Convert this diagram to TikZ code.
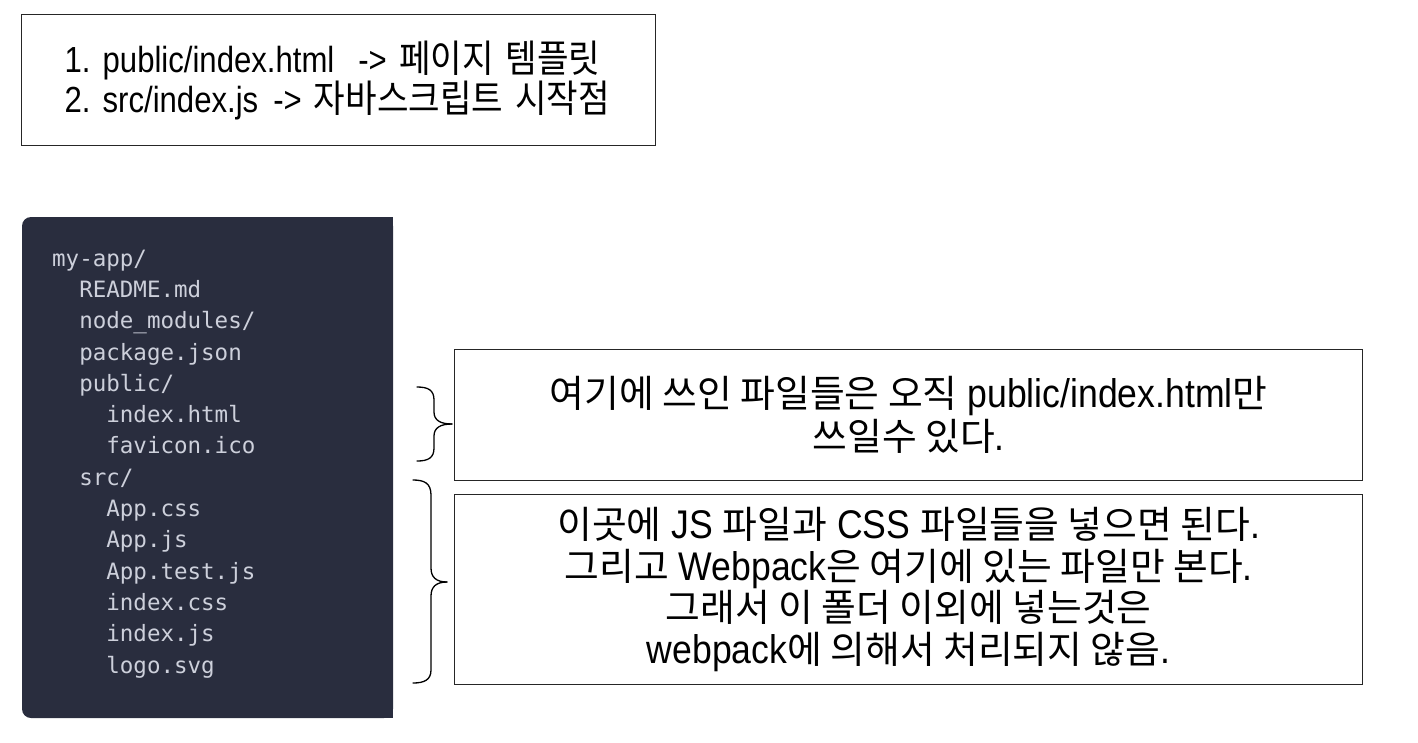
\documentclass[tikz,border=0pt]{standalone}
\usepackage{fontspec}
\setmainfont{Liberation Sans}[FakeStretch=0.89]
\newfontfamily\krbox{Noto Sans CJK KR}[Scale=0.945]
\newfontfamily\lattop{Liberation Sans}[FakeStretch=0.857]
\newfontfamily\krtop{Noto Sans CJK KR}[Scale=1.05,FakeStretch=0.9]
\newfontfamily\codefont{DejaVu Sans Mono}
\newcommand\K[1]{{\krbox #1}}
\newcommand\T[1]{{\krtop #1}}
\definecolor{codebg}{HTML}{292D3E}
\definecolor{codefg}{HTML}{CDD0DB}
\tikzset{
  notebox/.style={draw=black!85, line width=1.3pt, inner sep=0pt, align=center},
  bracepath/.style={draw=black, line width=1.3pt, line cap=round},
}
\begin{document}
\frenchspacing
\begin{tikzpicture}[x=1pt,y=-1pt]
\useasboundingbox (0,0) rectangle (1418,742);
% top box
\node[notebox, minimum width=634pt, minimum height=131pt, anchor=north west, align=left,
  inner xsep=43pt, text width=548pt,
  font={\lattop\fontsize{36.3}{34}\selectfont}] (top) at (21,14)
  {\mbox{1. public/index.html\hspace{24pt}-> \T{페이지 템플릿}}\\
   \mbox{2. src/index.js\hspace{15pt}-> \T{자바스크립트 시작점}}};
% code panel
\fill[codebg, rounded corners=9pt] (22,217) rectangle (393,718);
\fill[codebg] (200,217) rectangle (393,718);
\node[anchor=base west, align=left, inner sep=0pt, text=codefg,
  font={\codefont\fontsize{22.5}{31.3}\selectfont}] (code) at (52,673)
  {my-app/\\
   \hphantom{mm}README.md\\
   \hphantom{mm}node\_modules/\\
   \hphantom{mm}package.json\\
   \hphantom{mm}public/\\
   \hphantom{mmmm}index.html\\
   \hphantom{mmmm}favicon.ico\\
   \hphantom{mm}src/\\
   \hphantom{mmmm}App.css\\
   \hphantom{mmmm}App.js\\
   \hphantom{mmmm}App.test.js\\
   \hphantom{mmmm}index.css\\
   \hphantom{mmmm}index.js\\
   \hphantom{mmmm}logo.svg};
% note boxes
\node[notebox, minimum width=908pt, minimum height=131pt, anchor=north west,
  font={\fontsize{40}{43}\selectfont}] (pub) at (454,349)
  {\K{여기에 쓰인 파일들은 오직} public/index.html\K{만}\\
   \K{쓰일수 있다}.};
\node[notebox, minimum width=908pt, minimum height=190pt, anchor=north west,
  font={\fontsize{40}{41.7}\selectfont}] (srcbox) at (454,494)
  {\K{이곳에} JS \K{파일과} CSS \K{파일들을 넣으면 된다}.\\
   \K{그리고} Webpack\K{은 여기에 있는 파일만 본다}.\\
   \K{그래서 이 폴더 이외에 넣는것은}\\
   webpack\K{에 의해서 처리되지 않음}.};
% braces
\coordinate (b1top) at (417,387);
\coordinate (b1tip) at (452,424);
\coordinate (b1bot) at (417,461);
\draw[bracepath] (b1top) .. controls (428,387) and (434,390) .. (434,400)
  -- (434,412) .. controls (434,420) and (440,424) .. (b1tip);
\draw[bracepath] (b1tip) .. controls (440,424) and (434,428) .. (434,436)
  -- (434,448) .. controls (434,458) and (428,461) .. (b1bot);
\coordinate (b2top) at (413,480);
\coordinate (b2tip) at (447,582);
\coordinate (b2bot) at (413,683);
\draw[bracepath] (b2top) .. controls (424,480) and (431,483) .. (431,495)
  -- (431,568) .. controls (431,577) and (436,582) .. (b2tip);
\draw[bracepath] (b2tip) .. controls (436,582) and (431,587) .. (431,596)
  -- (431,670) .. controls (431,680) and (424,683) .. (b2bot);
\end{tikzpicture}
\end{document}
